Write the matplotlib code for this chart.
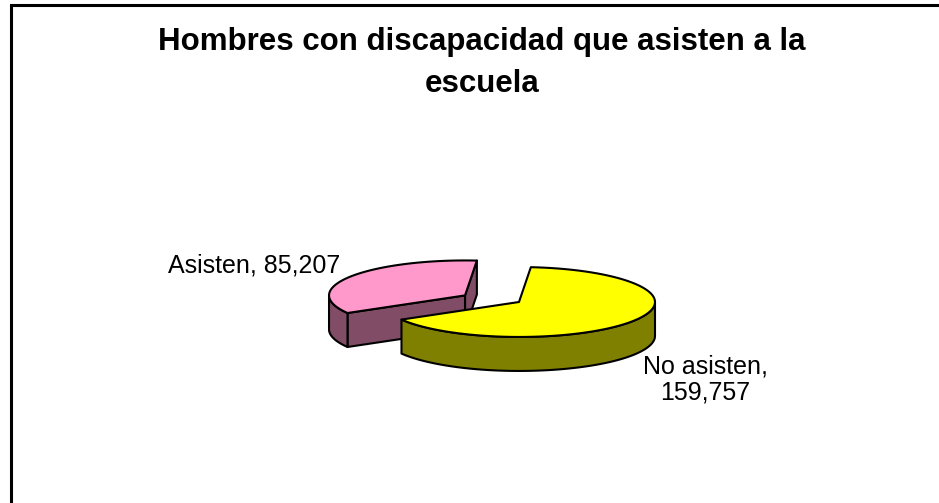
import numpy as np
import matplotlib
matplotlib.use('Agg')
from matplotlib import pyplot as plt
from matplotlib.patches import Polygon, Rectangle

# datos del grafico
categorias = ['No asisten', 'Asisten']
valores = [159757, 85207]
colores_sup = ['#FFFF00', '#FF99CC']
colores_lado = ['#808000', '#804C66']
separado = [0.0, 0.47]
titulo = 'Hombres con discapacidad que asisten a la\nescuela'

plt.rcParams['font.family'] = ['Liberation Sans', 'DejaVu Sans']

# geometria del pastel 3D
inicio = 85.0      # grados, sentido horario
aplastar = 0.257   # relacion eje menor / eje mayor
prof = 0.25        # grosor del pastel


def proy(x, y, z=0.0):
    return x, aplastar * y - z


def arco(cx, cy, t1, t2, z=0.0, n=80):
    t = np.radians(np.linspace(t1, t2, n))
    return np.column_stack(proy(cx + np.cos(t), cy + np.sin(t), z))


def frente(t1, t2):
    # partes del arco [t1, t2] que miran al observador (sin < 0)
    partes = []
    for k in (-1, 0, 1):
        a, b = max(t1, 180 + 360 * k), min(t2, 360 + 360 * k)
        if b > a:
            partes.append((a, b))
    return partes


fig = plt.figure(figsize=(9.39, 5.03), dpi=100)
ax = fig.add_axes([0, 0, 1, 1])
escala = 136.0
ax.set_xlim(-519 / escala, 420 / escala)
ax.set_ylim(-201 / escala, 302 / escala)
ax.axis('off')

total = float(sum(valores))
rebanadas = []
ang = inicio
for i, v in enumerate(valores):
    fin = ang - v / total * 360.0
    t1, t2 = fin, ang
    if t1 < -180:
        t1, t2 = t1 + 360, t2 + 360
    medio = np.radians((t1 + t2) / 2)
    cx, cy = separado[i] * np.cos(medio), separado[i] * np.sin(medio)
    rebanadas.append((i, t1, t2, cx, cy * 0.75))
    ang = fin

# de atras hacia adelante
rebanadas.sort(key=lambda r: -r[4])
borde = dict(edgecolor='black', linewidth=1.5, joinstyle='round')
for orden, (i, t1, t2, cx, cy) in enumerate(rebanadas):
    zb = 10 + orden * 5
    # caras radiales visibles
    caras = []
    if np.cos(np.radians(t1)) > 0:
        caras.append(t1)
    if np.cos(np.radians(t2)) < 0:
        caras.append(t2)
    caras.sort(key=lambda t: -np.sin(np.radians(t)))
    for t in caras:
        r = np.radians(t)
        pts = [proy(cx, cy), proy(cx + np.cos(r), cy + np.sin(r)),
               proy(cx + np.cos(r), cy + np.sin(r), prof), proy(cx, cy, prof)]
        ax.add_patch(Polygon(pts, closed=True, facecolor=colores_lado[i],
                             zorder=zb, **borde))
    # lado exterior
    for a, b in frente(t1, t2):
        arr = arco(cx, cy, a, b)
        aba = arco(cx, cy, a, b, prof)[::-1]
        ax.add_patch(Polygon(np.vstack([arr, aba]), closed=True,
                             facecolor=colores_lado[i], zorder=zb + 1, **borde))
    # tapa
    tapa = np.vstack([[proy(cx, cy)], arco(cx, cy, t1, t2)])
    ax.add_patch(Polygon(tapa, closed=True, facecolor=colores_sup[i],
                         zorder=zb + 2, **borde))

# etiquetas de datos
ax.text(-1.316, 0.265, f'{categorias[1]}, {valores[1]:,}', fontsize=18,
        ha='right', va='center')
ax.text(1.368, -0.57, f'{categorias[0]},\n{valores[0]:,}', fontsize=18,
        ha='center', va='center', linespacing=1.15)

fig.text(482 / 939, 1 - 63 / 503, titulo, fontsize=22.5, fontweight='bold',
         ha='center', va='center', linespacing=1.55)

# marco del area del grafico
fig.add_artist(Rectangle((10.5 / 939, -0.05), 1.0, 1 - 4.5 / 503 + 0.05,
                         transform=fig.transFigure, fill=False,
                         edgecolor='black', linewidth=2.2))

fig.savefig('out.png', dpi=100)
